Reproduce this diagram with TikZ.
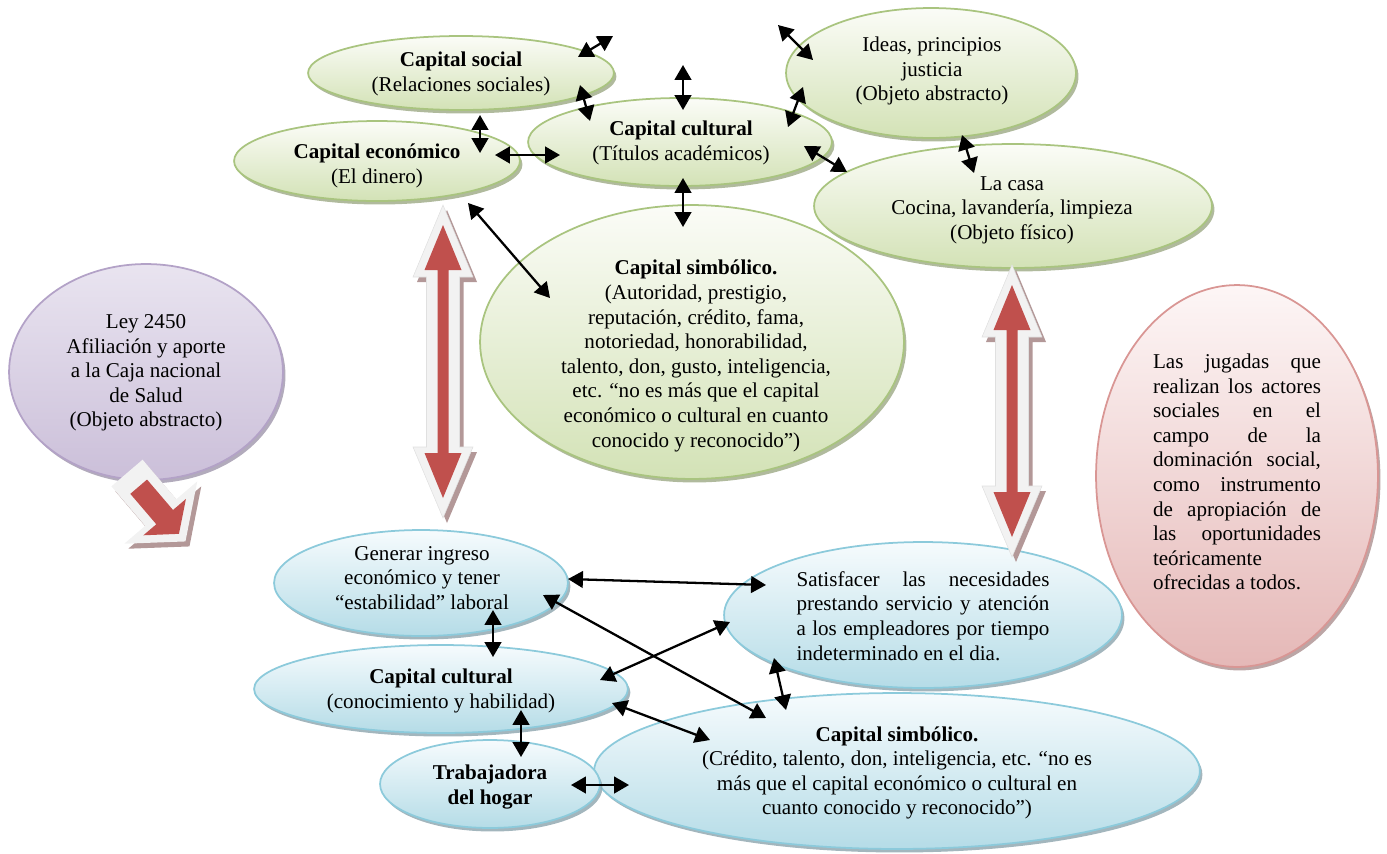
\documentclass[tikz,border=0pt]{standalone}
\usepackage{fontspec}
\setmainfont{Liberation Serif}
\usetikzlibrary{shapes.geometric,arrows.meta,shadows}

\definecolor{grnline}{HTML}{A9C47F}
\definecolor{grntop}{HTML}{FBFCF7}
\definecolor{grnbot}{HTML}{D3E2B6}
\definecolor{grnshd}{HTML}{A2AE8C}
\definecolor{blueline}{HTML}{8CCADB}
\definecolor{bluetop}{HTML}{F6FBFD}
\definecolor{bluebot}{HTML}{B5DCE7}
\definecolor{blueshd}{HTML}{93A9B2}
\definecolor{lilline}{HTML}{B3A2C7}
\definecolor{liltop}{HTML}{E9E4F0}
\definecolor{lilbot}{HTML}{CBBFD9}
\definecolor{lilshd}{HTML}{A59CB0}
\definecolor{pinkline}{HTML}{D99694}
\definecolor{pinktop}{HTML}{FDF6F6}
\definecolor{pinkbot}{HTML}{E5B8B7}
\definecolor{pinkshd}{HTML}{B09696}
\definecolor{blockred}{HTML}{C0504D}
\definecolor{blockpale}{HTML}{F2F2F2}
\definecolor{blockshd}{HTML}{B39898}

\newcommand{\spreadto}[2]{\makebox[#1][s]{#2}}

\begin{document}
\begin{tikzpicture}[x=0.02cm, y=-0.02cm,
  font=\fontsize{12pt}{14pt}\selectfont,
  oval/.style 2 args={ellipse, minimum width=#1*0.04cm, minimum height=#2*0.04cm, inner sep=0pt},
  greenball/.style={draw=grnline, line width=1pt, top color=grntop, bottom color=grnbot,
    drop shadow={shadow xshift=0.05cm, shadow yshift=-0.07cm, fill=grnshd, opacity=0.85}},
  blueball/.style={draw=blueline, line width=1pt, top color=bluetop, bottom color=bluebot,
    drop shadow={shadow xshift=0.05cm, shadow yshift=-0.07cm, fill=blueshd, opacity=0.85}},
  lilball/.style={draw=lilline, line width=1pt, top color=liltop, bottom color=lilbot,
    drop shadow={shadow xshift=0.05cm, shadow yshift=-0.07cm, fill=lilshd, opacity=0.85}},
  pinkball/.style={draw=pinkline, line width=1pt, top color=pinktop, bottom color=pinkbot,
    drop shadow={shadow xshift=0.05cm, shadow yshift=-0.07cm, fill=pinkshd, opacity=0.85}},
  lbl/.style={align=center, inner sep=0pt},
  dbl/.style={{Triangle[length=8.5pt,width=9.5pt]}-{Triangle[length=8.5pt,width=9.5pt]}, line width=1.3pt},
  pics/updown/.style={code={
    \fill[blockshd, shift={(4,5)}] (0,0) -- (30,72) -- (16.5,72) -- (16.5,#1-71) -- (30,#1-71)
      -- (0,#1) -- (-30,#1-71) -- (-16.5,#1-71) -- (-16.5,72) -- (-30,72) -- cycle;
    \fill[blockpale, draw=black!12, line width=0.3pt] (0,0) -- (30,72) -- (16.5,72) -- (16.5,#1-71) -- (30,#1-71)
      -- (0,#1) -- (-30,#1-71) -- (-16.5,#1-71) -- (-16.5,72) -- (-30,72) -- cycle;
    \fill[blockred] (0,20) -- (18.5,65) -- (5.5,65) -- (5.5,#1-65) -- (18.5,#1-65)
      -- (0,#1-20) -- (-18.5,#1-65) -- (-5.5,#1-65) -- (-5.5,65) -- (-18.5,65) -- cycle;
  }},
  pics/slantshape/.style={code={
    \fill[#1] (0,-20.5) -- (52,-20.5) -- (52,-48) -- (90,0) -- (52,48) -- (52,20.5) -- (0,20.5) -- cycle;
  }},
  pics/slantcore/.style={code={
    \fill[blockred] (18,-11) -- (58,-11) -- (58,-28) -- (80,0) -- (58,28) -- (58,11) -- (18,11) -- cycle;
  }}
]
\useasboundingbox (0,0) rectangle (1387,853);

% upper cluster: forms of capital
\node[oval={153}{37}, greenball] (soc) at (461,73) {};
\node[oval={152}{44}, greenball] (cul) at (680,142) {};
\node[oval={143}{40}, greenball] (eco) at (377,161) {};
\node[oval={145}{65}, greenball] (ide) at (931,73) {};
\node[oval={212}{137}, greenball] (sim) at (692,342) {};
\node[oval={199}{62}, greenball] (casa) at (1013,206) {};

% side bubbles
\node[oval={137}{108}, lilball] (ley) at (146,372) {};
\node[oval={141}{191}, pinkball] (jug) at (1237,476) {};

% lower cluster: domestic worker
\node[oval={147}{53}, blueball] (gen) at (421,583) {};
\node[oval={199}{73}, blueball] (sat) at (923,615) {};
\node[oval={187}{44}, blueball] (cub) at (441,689) {};
\node[oval={303}{78}, blueball] (sib) at (897,771) {};
\node[oval={110}{44}, blueball] (tra) at (490,784) {};

% texts
\node[lbl] (t-soc) at (461,74) {\textbf{Capital social}\\(Relaciones sociales)};
\node[lbl] (t-eco) at (377,166) {\textbf{Capital económico}\\(El dinero)};
\node[lbl] (t-cul) at (681,143) {\textbf{Capital cultural}\\(Títulos académicos)};
\node[lbl] (t-ide) at (932,71) {Ideas, principios\\justicia\\(Objeto abstracto)};
\node[lbl] (t-casa) at (1012,210) {La casa\\Cocina, lavandería, limpieza\\(Objeto físico)};
\node[lbl] (t-sim) at (696,356) {\textbf{Capital simbólico.}\\(Autoridad, prestigio,\\reputación, crédito, fama,\\notoriedad, honorabilidad,\\talento, don, gusto, inteligencia,\\etc. “no es más que el capital\\económico o cultural en cuanto\\conocido y reconocido”)};
\node[lbl] (t-ley) at (146,373) {Ley 2450\\Afiliación y aporte\\a la Caja nacional\\de Salud\\(Objeto abstracto)};
\node[lbl, align=left] (t-jug) at (1237,472) {\spreadto{3.36cm}{Las jugadas que}\\
  \spreadto{3.36cm}{realizan los actores}\\
  \spreadto{3.36cm}{sociales en el}\\
  \spreadto{3.36cm}{campo de la}\\
  \spreadto{3.36cm}{dominación social,}\\
  \spreadto{3.36cm}{como instrumento}\\
  \spreadto{3.36cm}{de apropiación de}\\
  \spreadto{3.36cm}{las oportunidades}\\
  teóricamente\\
  ofrecidas a todos.};
\node[lbl] (t-gen) at (422,578) {Generar ingreso\\económico y tener\\“estabilidad” laboral};
\node[lbl, align=left] (t-sat) at (923,616) {\spreadto{5.06cm}{Satisfacer las necesidades}\\
  \spreadto{5.06cm}{prestando servicio y atención}\\
  \spreadto{5.06cm}{a los empleadores por tiempo}\\
  indeterminado en el dia.};
\node[lbl] (t-cub) at (441,691) {\textbf{Capital cultural}\\(conocimiento y habilidad)};
\node[lbl] (t-tra) at (490,787) {\textbf{Trabajadora}\\\textbf{del hogar}};
\node[lbl] (t-sib) at (897,773) {\textbf{Capital simbólico.}\\(Crédito, talento, don, inteligencia, etc. “no es\\más que el capital económico o cultural en\\cuanto conocido y reconocido”)};

% block arrows
\pic at (443,205) {updown=313};
\pic at (1012,265) {updown=292};
\pic[rotate=-49.5] at (131,478) {slantshape=blockshd};
\pic[rotate=-49.5] at (127,473) {slantshape=blockpale};
\pic[rotate=-49.5] at (127,473) {slantcore};

% loose arrow ends
\coordinate (fs) at (613,36);
\coordinate (fc) at (683,65);
\coordinate (fi) at (778,25);

% connectors, upper cluster
\draw[dbl] ([shift={(19,42)}]soc.center) -- ([shift={(103,-8)}]eco.center);
\draw[dbl] ([shift={(118,-6)}]eco.center) -- ([shift={(-120,13)}]cul.center);
\draw[dbl] ([shift={(117,-16)}]soc.center) -- (fs);
\draw[dbl] ([shift={(119,12)}]soc.center) -- ([shift={(-90,-21)}]cul.center);
\draw[dbl] ([shift={(3,-32)}]cul.center) -- (fc);
\draw[dbl] ([shift={(108,-15)}]cul.center) -- ([shift={(-128,14)}]ide.center);
\draw[dbl] ([shift={(-118,-13)}]ide.center) -- (fi);
\draw[dbl] ([shift={(124,4)}]cul.center) -- ([shift={(-166,-34)}]casa.center);
\draw[dbl] ([shift={(3,36)}]cul.center) -- ([shift={(-9,-115)}]sim.center);
\draw[dbl] ([shift={(31,62)}]ide.center) -- ([shift={(-39,-33)}]casa.center);
\draw[dbl] ([shift={(91,42)}]eco.center) -- ([shift={(-142,-44)}]sim.center);

% connectors, lower cluster
\draw[dbl] ([shift={(147,-4)}]gen.center) -- ([shift={(-157,-30)}]sat.center);
\draw[dbl] ([shift={(72,27)}]gen.center) -- ([shift={(52,-32)}]cub.center);
\draw[dbl] ([shift={(122,12)}]gen.center) -- ([shift={(-131,-53)}]sib.center);
\draw[dbl] ([shift={(159,-9)}]cub.center) -- ([shift={(-193,7)}]sat.center);
\draw[dbl] ([shift={(-149,43)}]sat.center) -- ([shift={(-111,-61)}]sib.center);
\draw[dbl] ([shift={(171,14)}]cub.center) -- ([shift={(-187,-31)}]sib.center);
\draw[dbl] ([shift={(80,21)}]cub.center) -- ([shift={(31,-27)}]tra.center);
\draw[dbl] ([shift={(81,1)}]tra.center) -- ([shift={(-268,14)}]sib.center);
\end{tikzpicture}
\end{document}
